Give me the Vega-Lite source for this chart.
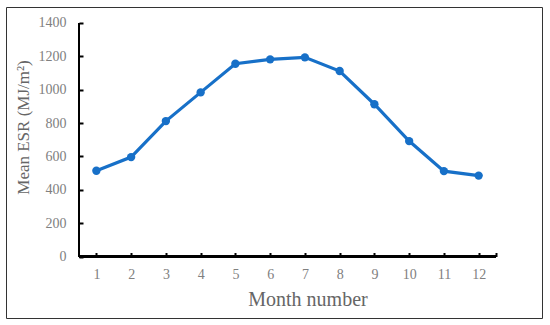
{
  "$schema": "https://vega.github.io/schema/vega-lite/v6.json",
  "autosize": "none",
  "padding": {"left": 6, "top": 7, "right": 8, "bottom": 7},
  "width": 536,
  "height": 311,
  "background": "white",
  "config": {
    "view": {"stroke": "#333333", "strokeWidth": 1},
    "font": "Liberation Serif"
  },
  "data": {
    "values": [
      {"month": 1, "esr": 514},
      {"month": 2, "esr": 596},
      {"month": 3, "esr": 812},
      {"month": 4, "esr": 984},
      {"month": 5, "esr": 1156},
      {"month": 6, "esr": 1182},
      {"month": 7, "esr": 1194},
      {"month": 8, "esr": 1112},
      {"month": 9, "esr": 913},
      {"month": 10, "esr": 692},
      {"month": 11, "esr": 512},
      {"month": 12, "esr": 485}
    ]
  },
  "layer": [
    {
      "mark": {"type": "rule", "color": "black", "strokeWidth": 2},
      "encoding": {
        "x": {"datum": 0.5, "type": "quantitative"},
        "x2": {"datum": 12.5},
        "y": {"datum": 0, "type": "quantitative"}
      }
    },
    {
      "mark": {"type": "rule", "color": "black", "strokeWidth": 2},
      "encoding": {
        "x": {"datum": 0.5, "type": "quantitative"},
        "y": {"datum": 0, "type": "quantitative"},
        "y2": {"datum": 1400}
      }
    },
    {
      "mark": {"type": "line", "color": "#1770C8", "strokeWidth": 3.2},
      "encoding": {
        "x": {
          "field": "month",
          "type": "quantitative",
          "scale": {"domain": [-1.601, 13.823], "nice": false, "zero": false},
          "axis": {
            "title": "Month number",
            "values": [1, 2, 3, 4, 5, 6, 7, 8, 9, 10, 11, 12, 12.5],
            "labelExpr": "datum.value > 12 ? '' : datum.label",
            "offset": -61.5,
            "domain": false,
            "grid": false,
            "tickSize": -4,
            "tickColor": "black",
            "tickWidth": 2,
            "labelPadding": 15,
            "labelFont": "Liberation Serif",
            "labelFontSize": 14,
            "labelColor": "#808080",
            "titleFont": "Liberation Serif",
            "titleFontSize": 20,
            "titleFontWeight": "normal",
            "titleColor": "#666666",
            "titleX": 301.5,
            "titlePadding": 8
          }
        },
        "y": {
          "field": "esr",
          "type": "quantitative",
          "scale": {"domain": [-368.7, 1495.9], "nice": false, "zero": false},
          "axis": {
            "title": "Mean ESR (MJ/m²)",
            "values": [0, 200, 400, 600, 800, 1000, 1200, 1400],
            "format": "d",
            "offset": -73,
            "domain": false,
            "grid": false,
            "tickSize": -4,
            "tickColor": "black",
            "tickWidth": 2,
            "labelPadding": 17,
            "labelFont": "Liberation Serif",
            "labelFontSize": 14,
            "labelColor": "#808080",
            "titleFont": "Liberation Serif",
            "titleFontSize": 17,
            "titleFontWeight": "normal",
            "titleColor": "#666666",
            "titleY": 120,
            "titlePadding": 6
          }
        }
      }
    },
    {
      "mark": {"type": "point", "filled": true, "color": "#1770C8", "size": 70, "opacity": 1},
      "encoding": {
        "x": {"field": "month", "type": "quantitative"},
        "y": {"field": "esr", "type": "quantitative"}
      }
    }
  ]
}
